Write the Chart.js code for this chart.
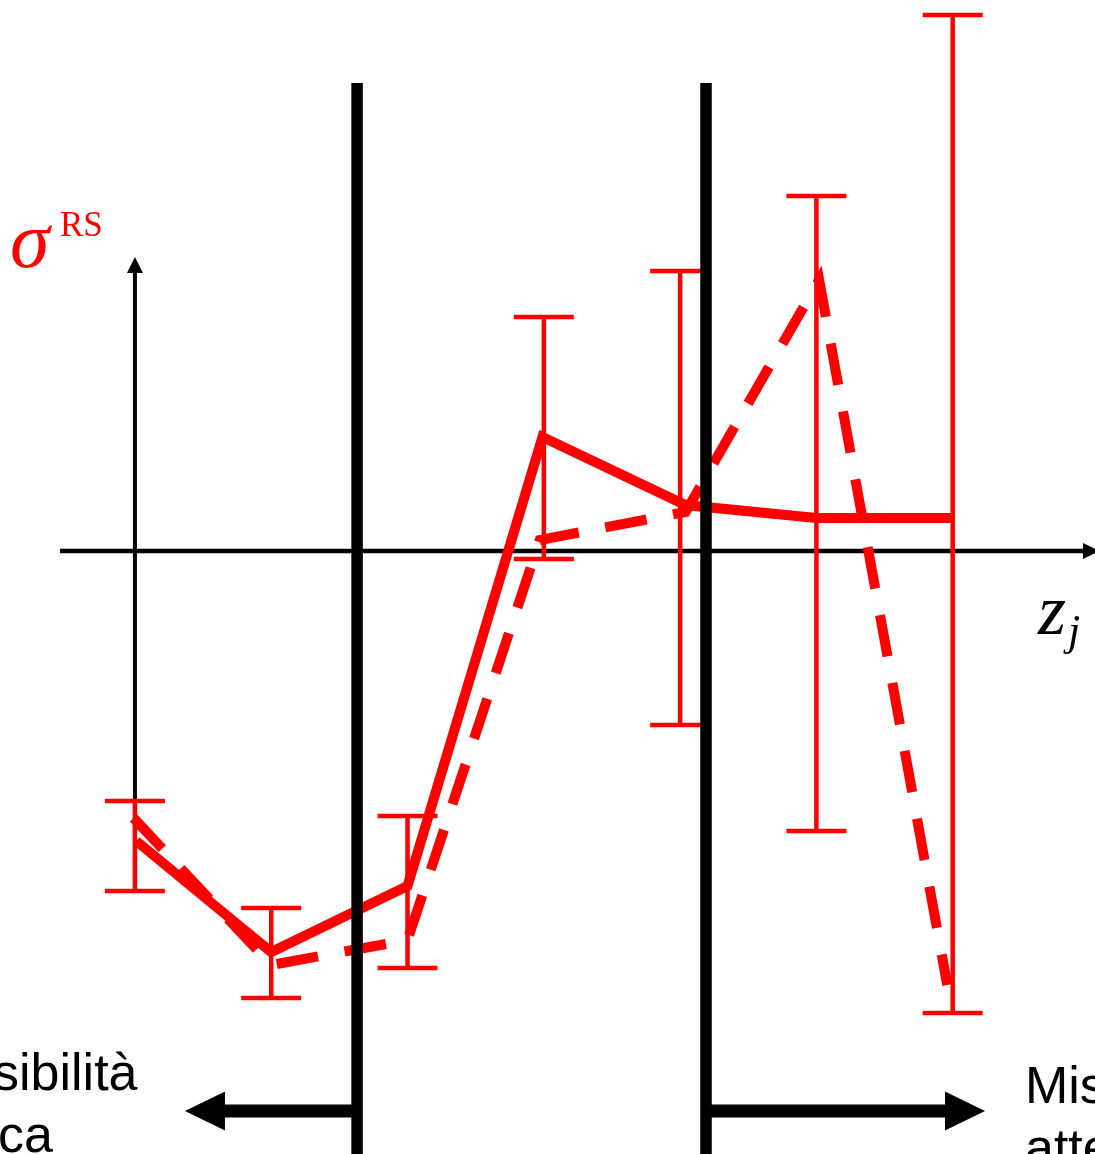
<!DOCTYPE html>
<html>
<head>
<meta charset="utf-8">
<script src="https://cdn.jsdelivr.net/npm/chart.js@4.4.1/dist/chart.umd.min.js"></script>
<style>
  html, body { margin: 0; padding: 0; background: #ffffff; overflow: hidden; }
  #wrap { width: 1095px; height: 1154px; }
</style>
</head>
<body>
<div id="wrap"><canvas id="c" width="1095" height="1154"></canvas></div>
<script>
// Bin positions along z_j
const zBins = [1, 2, 3, 4, 5, 6, 7];

// Solid curve of sigma^RS
const solidX = [1.01, 2.0, 3.0, 3.99, 5.04, 6.0, 7.0];
const solidY = [-2.90, -4.01, -3.35, 1.14, 0.46, 0.33, 0.33];

// Dashed curve of sigma^RS
const dashedX = [0.99, 2.0, 3.0, 3.97, 5.04, 6.02, 6.96];
const dashedY = [-2.67, -4.14, -3.89, 0.11, 0.39, 2.71, -4.34];

// Uncertainty band of each bin
const errHigh = [-2.50, -3.57, -2.65, 2.34, 2.80, 3.55, 5.36];
const errLow  = [-3.40, -4.47, -4.17, -0.08, -1.74, -2.80, -4.62];

// Region boundaries along z_j
const boundaries = [2.63, 5.19];

// Captions of the two outer regions
const leftCaption  = ["Impossibilità", "fisica"];
const rightCaption = ["Misura", "attendibile"];

const RED = "#ff0000";
const BLACK = "#000000";

function arrowHead(ctx, tipX, tipY, dx, dy, len, halfW) {
  // dx,dy: unit direction of the arrow
  const bx = tipX - dx * len, by = tipY - dy * len;
  const px = -dy, py = dx;
  ctx.beginPath();
  ctx.moveTo(tipX, tipY);
  ctx.lineTo(bx + px * halfW, by + py * halfW);
  ctx.lineTo(bx - px * halfW, by - py * halfW);
  ctx.closePath();
  ctx.fill();
}

// Axes drawn underneath the curves
const axesPlugin = {
  id: "axesUnder",
  beforeDatasetsDraw(chart) {
    const { ctx, scales: { x, y } } = chart;
    ctx.save();
    ctx.strokeStyle = BLACK;
    ctx.fillStyle = BLACK;
    ctx.lineCap = "butt";

    // horizontal z_j axis
    const y0 = y.getPixelForValue(0);
    const xa0 = x.getPixelForValue(0.45);
    const xa1 = x.getPixelForValue(8.08);
    ctx.lineWidth = 4.5;
    ctx.beginPath();
    ctx.moveTo(xa0, y0);
    ctx.lineTo(xa1 - 14, y0);
    ctx.stroke();
    arrowHead(ctx, xa1, y0, 1, 0, 17, 8);

    // vertical sigma axis
    const ax = x.getPixelForValue(zBins[0]);
    const yb = y.getPixelForValue(-3.40);
    const yt = y.getPixelForValue(2.94);
    ctx.lineWidth = 4;
    ctx.beginPath();
    ctx.moveTo(ax, yb);
    ctx.lineTo(ax, yt + 12);
    ctx.stroke();
    arrowHead(ctx, ax, yt, 0, -1, 16, 8);
    ctx.restore();
  }
};

// Error bars of every bin
const errorBarPlugin = {
  id: "errorBars",
  afterDatasetsDraw(chart) {
    const { ctx, scales: { x, y } } = chart;
    ctx.save();
    ctx.strokeStyle = RED;
    ctx.lineWidth = 4.5;
    ctx.lineCap = "butt";
    const capHalf = 0.22;
    zBins.forEach((z, i) => {
      const px = x.getPixelForValue(z);
      const pTop = y.getPixelForValue(errHigh[i]);
      const pBot = y.getPixelForValue(errLow[i]);
      ctx.beginPath();
      ctx.moveTo(px, pTop);
      ctx.lineTo(px, pBot);
      ctx.moveTo(x.getPixelForValue(z - capHalf), pTop);
      ctx.lineTo(x.getPixelForValue(z + capHalf), pTop);
      ctx.moveTo(x.getPixelForValue(z - capHalf), pBot);
      ctx.lineTo(x.getPixelForValue(z + capHalf), pBot);
      ctx.stroke();
    });
    ctx.restore();
  }
};

// Region boundaries, region arrows and all labels on top
const overlayPlugin = {
  id: "overlay",
  afterDraw(chart) {
    const { ctx, scales: { x, y } } = chart;
    ctx.save();
    ctx.strokeStyle = BLACK;
    ctx.fillStyle = BLACK;
    ctx.lineCap = "butt";

    const top = y.getPixelForValue(4.68);
    const bottom = chart.height;
    ctx.lineWidth = 11.5;
    boundaries.forEach(b => {
      const px = x.getPixelForValue(b);
      ctx.beginPath();
      ctx.moveTo(px, top);
      ctx.lineTo(px, bottom);
      ctx.stroke();
    });

    // region arrows
    const ay = y.getPixelForValue(-5.60);
    const lb = x.getPixelForValue(boundaries[0]);
    const rb = x.getPixelForValue(boundaries[1]);
    const lTip = x.getPixelForValue(1.367);
    const rTip = x.getPixelForValue(7.237);
    ctx.lineWidth = 13;
    ctx.beginPath();
    ctx.moveTo(lb, ay);
    ctx.lineTo(lTip + 38, ay);
    ctx.moveTo(rb, ay);
    ctx.lineTo(rTip - 38, ay);
    ctx.stroke();
    arrowHead(ctx, lTip, ay, -1, 0, 40, 19.5);
    arrowHead(ctx, rTip, ay, 1, 0, 40, 19.5);

    // region captions
    ctx.font = '52px "Liberation Sans", Arial, sans-serif';
    ctx.textBaseline = "alphabetic";
    ctx.textAlign = "left";
    const w1 = ctx.measureText("Impos").width;
    ctx.fillText(leftCaption[0], -w1 - 7, 1090);
    const w2 = ctx.measureText("fisi").width;
    ctx.fillText(leftCaption[1], -w2 - 2, 1152);
    ctx.fillText(rightCaption[0], 1025, 1103);
    ctx.fillText(rightCaption[1], 1025, 1165);

    // axis titles
    ctx.fillStyle = RED;
    ctx.font = 'italic 80px "Liberation Serif", "Times New Roman", serif';
    ctx.fillText("\u03c3", 10, 267);
    ctx.font = '35px "Liberation Serif", "Times New Roman", serif';
    ctx.fillText("RS", 60, 236);

    ctx.fillStyle = BLACK;
    ctx.font = 'italic 72px "Liberation Serif", "Times New Roman", serif';
    ctx.fillText("z", 1038, 634);
    ctx.font = 'italic 44px "Liberation Serif", "Times New Roman", serif';
    ctx.fillText("j", 1068, 645);
    ctx.restore();
  }
};

const toPoints = (xs, ys) => xs.map((v, i) => ({ x: v, y: ys[i] }));

new Chart(document.getElementById("c"), {
  type: "line",
  data: {
    datasets: [
      {
        label: "sigma RS (dashed)",
        data: toPoints(dashedX, dashedY),
        borderColor: RED,
        borderWidth: 10,
        borderDash: [42, 27],
        borderCapStyle: "butt",
        pointRadius: 0,
        tension: 0,
        fill: false
      },
      {
        label: "sigma RS",
        data: toPoints(solidX, solidY),
        borderColor: RED,
        borderWidth: 10,
        borderJoinStyle: "miter",
        pointRadius: 0,
        tension: 0,
        fill: false
      }
    ]
  },
  options: {
    responsive: false,
    animation: false,
    events: [],
    layout: { padding: 0 },
    plugins: {
      legend: { display: false },
      tooltip: { enabled: false },
      title: { display: false }
    },
    scales: {
      x: { type: "linear", min: 0.01, max: 8.044, display: false },
      y: { type: "linear", min: -6.03, max: 5.51, display: false }
    }
  },
  plugins: [axesPlugin, errorBarPlugin, overlayPlugin]
});
</script>
</body>
</html>
